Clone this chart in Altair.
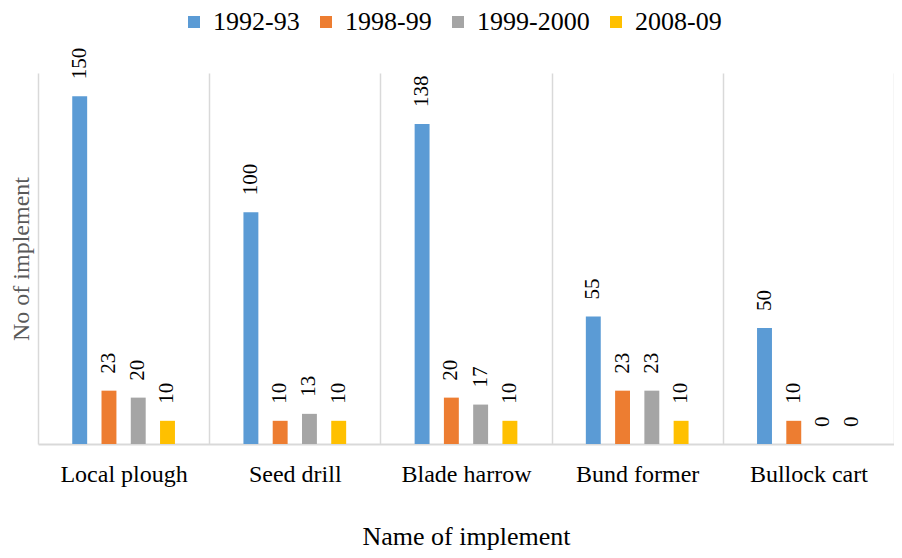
import altair as alt
import pandas as pd

categories = ["Local plough", "Seed drill", "Blade harrow", "Bund former", "Bullock cart"]
series = ["1992-93", "1998-99", "1999-2000", "2008-09"]
v1992 = [150, 100, 138, 55, 50]
v1998 = [23, 10, 20, 23, 10]
v1999 = [20, 13, 17, 23, 0]
v2008 = [10, 10, 10, 10, 0]
colors = ["#5B9BD5", "#ED7D31", "#A5A5A5", "#FFC000"]

rows = []
for s, vals in zip(series, [v1992, v1998, v1999, v2008]):
    for c, v in zip(categories, vals):
        rows.append({"Implement": c, "Year": s, "Count": v})
df = pd.DataFrame(rows)

FONT = "Liberation Serif"

# empty slots either side of each group give the wide gaps around the bars
offset_domain = ["_lead"] + series + ["_trail"]

x = alt.X(
    "Implement:N", sort=categories,
    scale=alt.Scale(paddingInner=0, paddingOuter=0),
    axis=alt.Axis(
        title="Name of implement", labelAngle=0, grid=True, tickBand="extent",
        ticks=False, domainColor="#D9D9D9", domainWidth=2,
        gridColor="#D9D9D9", gridWidth=1.5,
        labelFont=FONT, labelFontSize=24, labelColor="#000000", labelPadding=18,
        titleFont=FONT, titleFontSize=26, titleFontWeight="normal",
        titleColor="#000000", titleY=100, titleBaseline="alphabetic",
    ),
)
xo = alt.XOffset("Year:N",
                 scale=alt.Scale(domain=offset_domain, paddingInner=0.49, paddingOuter=0.17))
y = alt.Y(
    "Count:Q", scale=alt.Scale(domain=[0, 160]),
    axis=alt.Axis(
        title="No of implement", labels=False, ticks=False, domain=False, grid=False,
        titleFont=FONT, titleFontSize=24, titleFontWeight="normal", titleColor="#595959",
        titleAngle=270, titleX=-17, titleY=185.5, titleAlign="center", titleBaseline="middle",
    ),
)

bars = alt.Chart(df).mark_bar().encode(
    x=x, xOffset=xo, y=y,
    color=alt.Color(
        "Year:N", sort=series,
        scale=alt.Scale(domain=series, range=colors),
        legend=alt.Legend(
            title=None, orient="none", direction="horizontal",
            legendX=143, legendY=-64, padding=0, symbolType="square", symbolSize=144,
            symbolStrokeWidth=0, labelFont=FONT, labelFontSize=26,
            labelColor="#000000", labelOffset=6, columnPadding=13, labelLimit=0,
        ),
    ),
)

labels = alt.Chart(df).mark_text(
    angle=270, align="left", baseline="middle", dx=17,
    font=FONT, fontSize=21, color="#000000",
).encode(x=x, xOffset=xo, y=y, text=alt.Text("Count:Q"))

chart = alt.layer(bars, labels).properties(
    width=856, height=371,
    autosize=alt.AutoSizeParams(type="none"),
    padding={"left": 30, "top": 65, "right": 0, "bottom": 106},
).configure(font=FONT).configure_view(stroke=None)

chart.save("out.html", embed_options={"renderer": "svg", "actions": False})
